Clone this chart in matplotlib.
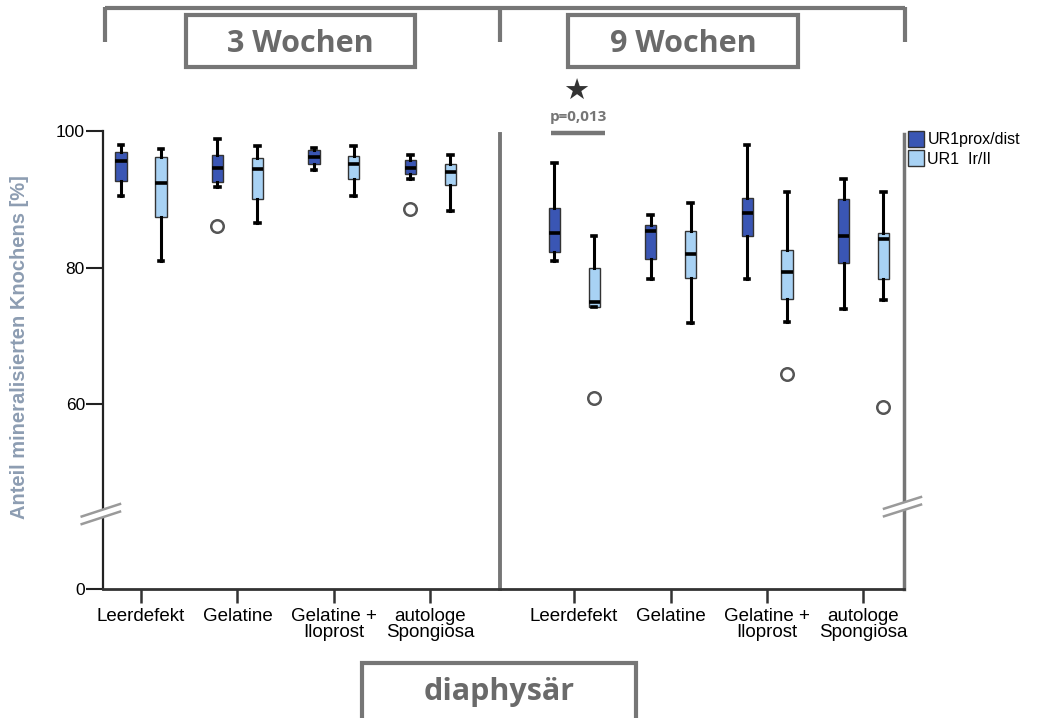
import numpy as np
import matplotlib
matplotlib.use("Agg")
import matplotlib.pyplot as plt
from matplotlib.patches import Patch, Rectangle

plt.rcParams['font.family'] = ['Liberation Sans', 'DejaVu Sans']

# ---------------- data ----------------
categories = ["Leerdefekt", "Gelatine", "Gelatine +\nIloprost", "autologe\nSpongiosa"]
periods = ["3 Wochen", "9 Wochen"]
series = ["UR1prox/dist", "UR1  Ir/Il"]

# 8 groups: 4 categories at 3 weeks, then 4 categories at 9 weeks
prox_whishi = [97.9, 98.8, 97.4, 96.5, 95.3, 87.7, 97.9, 92.9]
prox_q3     = [96.9, 96.4, 97.2, 95.7, 88.7, 86.2, 90.2, 90.0]
prox_med    = [95.5, 94.6, 96.1, 94.5, 85.0, 85.4, 88.0, 84.6]
prox_q1     = [92.6, 92.5, 95.2, 93.7, 82.2, 81.3, 84.6, 80.7]
prox_whislo = [90.5, 91.8, 94.3, 93.0, 81.0, 78.3, 78.3, 73.9]
prox_fliers = [[], [86.0], [], [88.6], [], [], [], []]

lr_whishi = [97.3, 97.8, 97.8, 96.5, 84.6, 89.4, 91.1, 91.0]
lr_q3     = [96.2, 96.0, 96.3, 95.2, 80.0, 85.4, 82.5, 85.1]
lr_med    = [92.4, 94.4, 95.2, 93.9, 74.9, 82.0, 79.4, 84.1]
lr_q1     = [87.4, 90.0, 92.9, 92.1, 74.2, 78.4, 75.4, 78.3]
lr_whislo = [81.0, 86.5, 90.4, 88.3, 74.2, 71.9, 72.1, 75.3]
lr_fliers = [[], [], [], [], [60.9], [], [64.5], [59.6]]

y_ticks = [0, 60, 80, 100]
p_text = "p=0,013"

# ---------------- styling ----------------
W, H = 1039, 718
DARK = "#3a56b4"
LIGHT = "#a8d2f4"
GRAY = "#767676"
TXTGRAY = "#6a6a6a"

group_x = np.array([0, 1, 2, 3, 4.49, 5.49, 6.49, 7.49])
off = 0.207
bw = 0.115

# broken y-axis: linear above B, compressed below
B = 44.55
K = 0.259
def fwd(v):
    v = np.asarray(v, dtype=float)
    return np.where(v >= B, v, B - (B - v) * K)
def inv(u):
    u = np.asarray(u, dtype=float)
    return np.where(u >= B, u, B - (B - u) / K)

fig = plt.figure(figsize=(W / 100, H / 100), dpi=100)
ax = fig.add_axes([103 / W, 1 - 589 / H, (904 - 103) / W, (589 - 130.7) / H])
ax.set_yscale('function', functions=(fwd, inv))

def stats(whislo, q1, med, q3, whishi, fl):
    return [dict(whislo=a, q1=b, med=c, q3=d, whishi=e, fliers=f)
            for a, b, c, d, e, f in zip(whislo, q1, med, q3, whishi, fl)]

common = dict(widths=bw, capwidths=0.05, patch_artist=True, manage_ticks=False,
              medianprops=dict(color="black", lw=2.6),
              whiskerprops=dict(color="black", lw=2.2),
              capprops=dict(color="black", lw=2.6),
              flierprops=dict(marker="o", markersize=9, markerfacecolor="white",
                              markeredgecolor="#555555", markeredgewidth=1.8))

ax.bxp(stats(prox_whislo, prox_q1, prox_med, prox_q3, prox_whishi, prox_fliers),
       positions=group_x - off,
       boxprops=dict(facecolor=DARK, edgecolor="#333333", lw=1.0), **common)
ax.bxp(stats(lr_whislo, lr_q1, lr_med, lr_q3, lr_whishi, lr_fliers),
       positions=group_x + off,
       boxprops=dict(facecolor=LIGHT, edgecolor="#333333", lw=1.0), **common)

ax.set_xlim(-0.394, 7.91)
ax.set_ylim(0, 100)
ax.set_yticks(y_ticks)
ax.set_yticklabels([str(t) for t in y_ticks], fontsize=12.5)
ax.yaxis.set_minor_locator(matplotlib.ticker.NullLocator())
ax.set_xticks(group_x)
ax.set_xticklabels(categories * 2, fontsize=13.5, linespacing=0.9)
ax.tick_params(axis='x', length=10, width=1.8, color="#333333", pad=4)
ax.tick_params(axis='y', length=12, width=1.5, color="#222222", pad=1)

ax.spines['top'].set_visible(False)
ax.spines['left'].set_color("#222222")
ax.spines['left'].set_linewidth(1.6)
ax.spines['bottom'].set_color("#333333")
ax.spines['bottom'].set_linewidth(2)
ax.spines['right'].set_color(GRAY)
ax.spines['right'].set_linewidth(2.5)
ax.spines['right'].set_bounds(0, 99.5)
ax.plot([3.72, 3.72], [0, 99.5], color=GRAY, lw=2.8, clip_on=False)

fig.text(20 / W, 1 - 347 / H, "Anteil mineralisierten Knochens [%]", rotation=90,
         ha="center", va="center", fontsize=14.5, fontweight="bold", color="#8d9db2")

fig.legend(handles=[Patch(facecolor=DARK, edgecolor="#333333", lw=1.0, label=series[0]),
                    Patch(facecolor=LIGHT, edgecolor="#333333", lw=1.0, label=series[1])],
           loc="upper left", bbox_to_anchor=(905 / W, 1 - 128 / H), frameon=False,
           fontsize=11.5, handlelength=1.0, handleheight=1.1, handletextpad=0.2,
           labelspacing=0.2, borderaxespad=0, borderpad=0.2)

# ---------------- overlay annotations ----------------
ov = fig.add_axes([0, 0, 1, 1], zorder=5)
ov.set_xlim(0, W)
ov.set_ylim(H, 0)
ov.axis("off")
ov.patch.set_alpha(0)

# top bracket
ov.plot([105, 905], [8, 8], color=GRAY, lw=3, solid_capstyle="butt")
for xx in (105, 500, 905):
    ov.plot([xx, xx], [6.5, 42], color=GRAY, lw=3, solid_capstyle="butt")

for (x0, x1), lab in zip([(186, 415), (568, 798)], periods):
    ov.add_patch(Rectangle((x0, 15), x1 - x0, 52, fill=True, facecolor="white",
                           edgecolor=GRAY, lw=3))
    ov.text((x0 + x1) / 2, 44, lab, ha="center", va="center", fontsize=22,
            fontweight="bold", color=TXTGRAY, family="Open Sans")

# bottom box
ov.plot([362, 362, 636, 636], [720, 663, 663, 720], color=GRAY, lw=3,
        solid_joinstyle="miter")
ov.text(499, 692, "diaphysär", ha="center", va="center", fontsize=22,
        fontweight="bold", color=TXTGRAY, family="Open Sans")

# significance
ov.text(576, 92, "★", ha="center", va="center", fontsize=21, color="#333333",
        family="DejaVu Sans")
ov.text(578, 117, p_text, ha="center", va="center", fontsize=11,
        fontweight="bold", color=GRAY, family="Open Sans")
ov.plot([551, 605], [133, 133], color=GRAY, lw=3.2, solid_capstyle="butt")

# axis break marks
for (xa, ya, xb, yb) in [(81.7, 520.3, 120, 507.8), (884, 512.5, 921, 500.8)]:
    ov.plot([xa, xb], [ya, yb], color="white", lw=5.5, solid_capstyle="butt")
    ov.plot([xa, xb], [ya - 3.8, yb - 3.8], color="#9a9a9a", lw=1.8)
    ov.plot([xa, xb], [ya + 3.8, yb + 3.8], color="#9a9a9a", lw=1.8)

fig.savefig("out.png", dpi=100, facecolor="white")
